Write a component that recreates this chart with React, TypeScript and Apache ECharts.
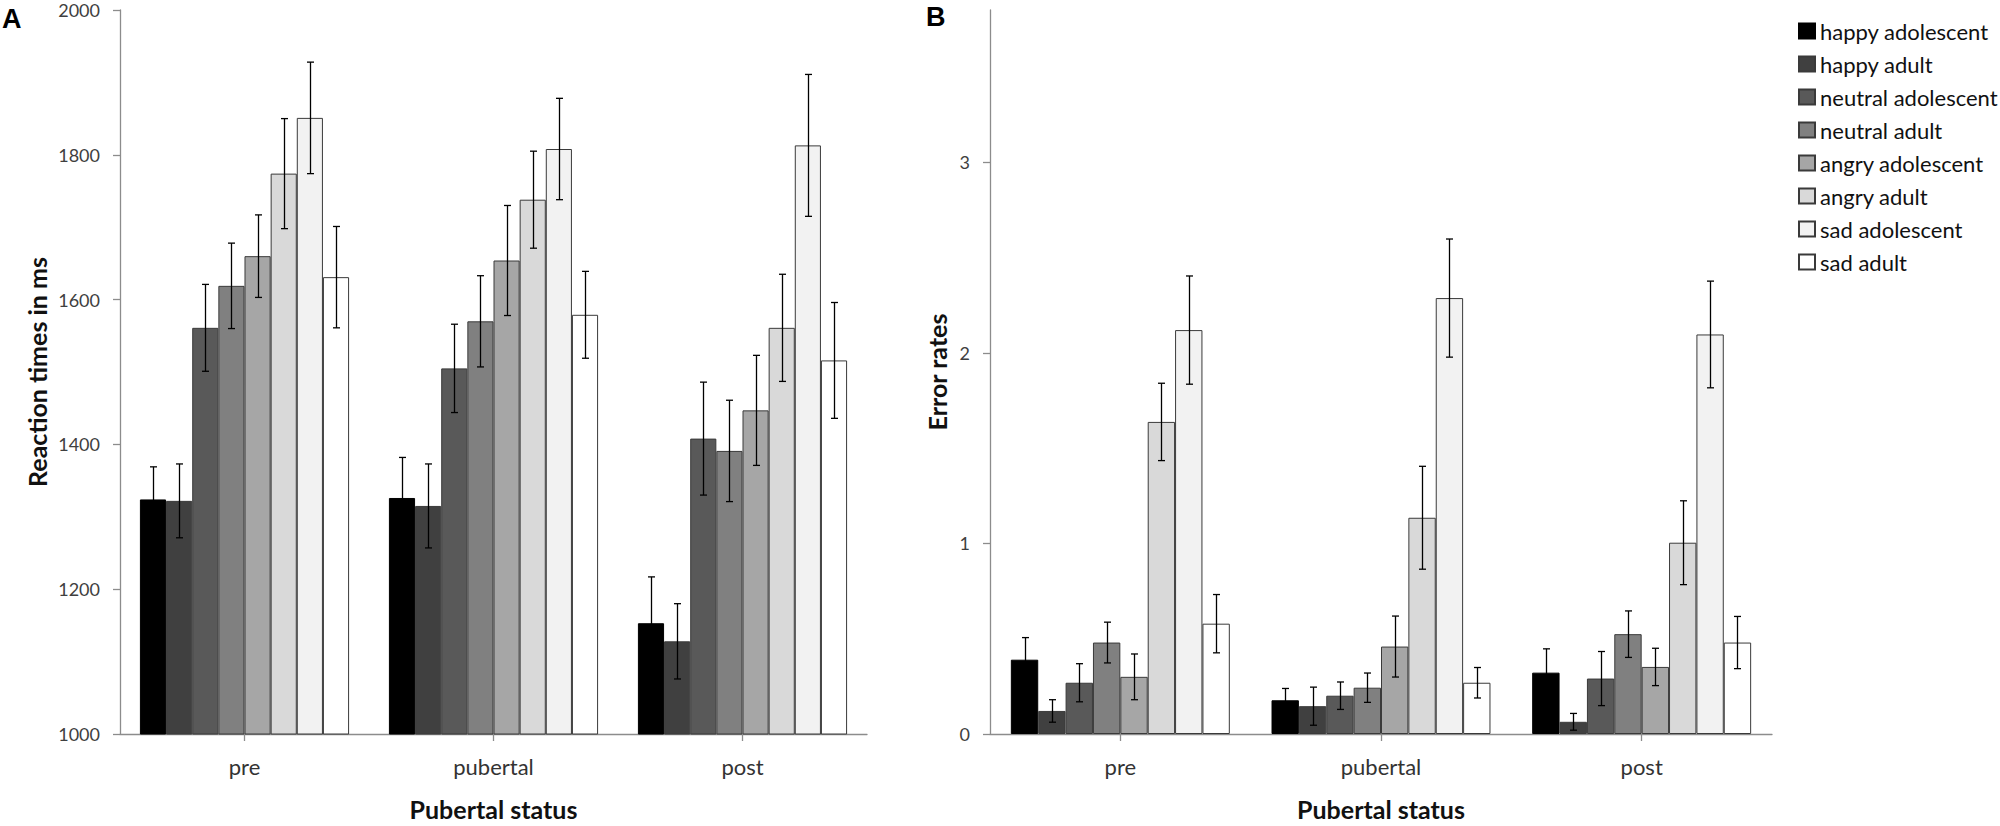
import React, { useEffect, useRef } from "react";
import * as echarts from "echarts";

const categories = ["pre", "pubertal", "post"];
const seriesNames = [
  "happy adolescent",
  "happy adult",
  "neutral adolescent",
  "neutral adult",
  "angry adolescent",
  "angry adult",
  "sad adolescent",
  "sad adult",
];
const barColors = ["#000000", "#404040", "#595959", "#808080", "#A6A6A6", "#D9D9D9", "#F2F2F2", "#FFFFFF"];

// Panel A: reaction times (ms), per series across [pre, pubertal, post]
const reactionTimes = [
  [1324, 1326, 1153],
  [1322, 1315, 1128],
  [1561, 1505, 1408],
  [1619, 1570, 1391],
  [1660, 1654, 1447],
  [1774, 1738, 1561],
  [1851, 1808, 1813],
  [1631, 1579, 1516],
];
const reactionErrors = [
  [45, 56, 64],
  [51, 58, 52],
  [60, 61, 78],
  [59, 63, 70],
  [57, 76, 76],
  [76, 67, 74],
  [77, 70, 98],
  [70, 60, 80],
];

// Panel B: error rates
const errorRates = [
  [0.39, 0.177, 0.322],
  [0.121, 0.146, 0.064],
  [0.269, 0.201, 0.291],
  [0.48, 0.243, 0.524],
  [0.3, 0.459, 0.352],
  [1.638, 1.135, 1.004],
  [2.12, 2.288, 2.097],
  [0.579, 0.269, 0.48],
];
const errorRateErrors = [
  [0.116, 0.062, 0.125],
  [0.059, 0.1, 0.044],
  [0.1, 0.072, 0.142],
  [0.107, 0.077, 0.122],
  [0.12, 0.16, 0.098],
  [0.203, 0.27, 0.22],
  [0.284, 0.31, 0.28],
  [0.153, 0.08, 0.137],
];

const rtTicks = [1000, 1200, 1400, 1600, 1800, 2000];
const erTicks = [0, 1, 2, 3];

const CAT_GAP = 0.16;
const FONT = "Lato, 'Open Sans', sans-serif";

function errorBarSeries(means: number[][], errs: number[][], axisIndex: number) {
  const data: number[][] = [];
  means.forEach((row, si) => {
    row.forEach((m, ci) => {
      data.push([ci, si, m - errs[si][ci], m + errs[si][ci]]);
    });
  });
  const n = means.length;
  return {
    type: "custom",
    xAxisIndex: axisIndex,
    yAxisIndex: axisIndex,
    z: 5,
    silent: true,
    dimensions: ["cat", "s", "lo", "hi"],
    encode: { x: 0, y: [2, 3] },
    data,
    renderItem: (params: any, api: any) => {
      const cat = api.value(0);
      const si = api.value(1);
      const lo = api.coord([cat, api.value(2)]);
      const hi = api.coord([cat, api.value(3)]);
      const band = api.size([1, 0])[0];
      const groupW = band * (1 - CAT_GAP);
      const bw = groupW / n;
      const x = Math.round(lo[0] - groupW / 2 + bw * (si + 0.5)) + 0.5;
      const cap = 3.5;
      const style = { stroke: "#000000", lineWidth: 1.3 };
      return {
        type: "group",
        children: [
          { type: "line", shape: { x1: x, y1: hi[1], x2: x, y2: lo[1] }, style },
          { type: "line", shape: { x1: x - cap, y1: hi[1], x2: x + cap, y2: hi[1] }, style },
          { type: "line", shape: { x1: x - cap, y1: lo[1], x2: x + cap, y2: lo[1] }, style },
        ],
      };
    },
  };
}

function barSeries(means: number[][], axisIndex: number) {
  return means.map((row, si) => ({
    type: "bar",
    name: seriesNames[si],
    xAxisIndex: axisIndex,
    yAxisIndex: axisIndex,
    data: row,
    barGap: "0%",
    barCategoryGap: CAT_GAP * 100 + "%",
    itemStyle: {
      color: barColors[si],
      borderColor: si === 0 ? "#000000" : "#3a3a3a",
      borderWidth: 1,
    },
  }));
}

const axisLineStyle = { color: "#8c8c8c", width: 1.3 };

function xAxisDef(gridIndex: number) {
  return {
    type: "category",
    gridIndex,
    data: categories,
    boundaryGap: true,
    axisLine: { show: true, lineStyle: axisLineStyle },
    axisTick: { show: true, alignWithLabel: true, length: 7, lineStyle: axisLineStyle },
    axisLabel: { margin: 21, fontSize: 22, color: "#333333", fontFamily: FONT },
    name: "Pubertal status",
    nameLocation: "middle",
    nameGap: 62,
    nameTextStyle: { fontSize: 25, fontWeight: "bold", color: "#111111", fontFamily: FONT },
    splitLine: { show: false },
  };
}

const plain = (v: number) => String(v);

export default function App() {
  const ref = useRef<HTMLDivElement>(null);
  useEffect(() => {
    if (!ref.current) return;
    const chart = echarts.init(ref.current, undefined, { renderer: "svg" });
    chart.setOption({
      animation: false,
      backgroundColor: "#ffffff",
      textStyle: { fontFamily: FONT },
      grid: [
        { left: 120, top: 10, width: 747, height: 728 },
        { left: 990, top: 10, width: 782, height: 730 },
      ],
      legend: {
        data: seriesNames,
        orient: "vertical",
        left: 1793,
        top: 15,
        itemWidth: 16,
        itemHeight: 15,
        itemGap: 11,
        icon: "rect",
        textStyle: { fontSize: 22, lineHeight: 21, color: "#111111", fontFamily: FONT },
        selectedMode: false,
      },
      xAxis: [xAxisDef(0), xAxisDef(1)],
      yAxis: [
        {
          type: "value",
          gridIndex: 0,
          min: 1000,
          max: 2000,
          interval: 200,
          axisLine: { show: true, lineStyle: axisLineStyle },
          axisTick: { show: true, length: 7, lineStyle: axisLineStyle, customValues: rtTicks },
          axisLabel: { margin: 20, fontSize: 18, color: "#3f3f3f", fontFamily: FONT, customValues: rtTicks, formatter: plain },
          splitLine: { show: false },
          name: "Reaction times in ms",
          nameLocation: "middle",
          nameGap: 71,
          nameTextStyle: { fontSize: 25, fontWeight: "bold", color: "#111111", fontFamily: FONT },
        },
        {
          type: "value",
          gridIndex: 1,
          min: 0,
          max: 3.8,
          interval: 1,
          axisLine: { show: true, lineStyle: axisLineStyle },
          axisTick: { show: true, length: 7, lineStyle: axisLineStyle, customValues: erTicks },
          axisLabel: { margin: 20, fontSize: 18, color: "#3f3f3f", fontFamily: FONT, customValues: erTicks, formatter: plain },
          splitLine: { show: false },
          name: "Error rates",
          nameLocation: "middle",
          nameGap: 41,
          nameTextStyle: { fontSize: 25, fontWeight: "bold", color: "#111111", fontFamily: FONT },
        },
      ],
      graphic: [
        {
          type: "text",
          left: 2,
          top: 5,
          style: { text: "A", fontSize: 27, fontWeight: "bold", fill: "#000000", fontFamily: "'Liberation Sans', Arial, sans-serif" },
        },
        {
          type: "text",
          left: 926,
          top: 3,
          style: { text: "B", fontSize: 27, fontWeight: "bold", fill: "#000000", fontFamily: "'Liberation Sans', Arial, sans-serif" },
        },
      ],
      series: [
        ...barSeries(reactionTimes, 0),
        ...barSeries(errorRates, 1),
        errorBarSeries(reactionTimes, reactionErrors, 0),
        errorBarSeries(errorRates, errorRateErrors, 1),
      ],
    });
    return () => chart.dispose();
  }, []);
  return (
    <div
      ref={ref}
      style={{ position: "fixed", left: 0, top: 0, width: "2000px", height: "826px", background: "#fff" }}
    />
  );
}
